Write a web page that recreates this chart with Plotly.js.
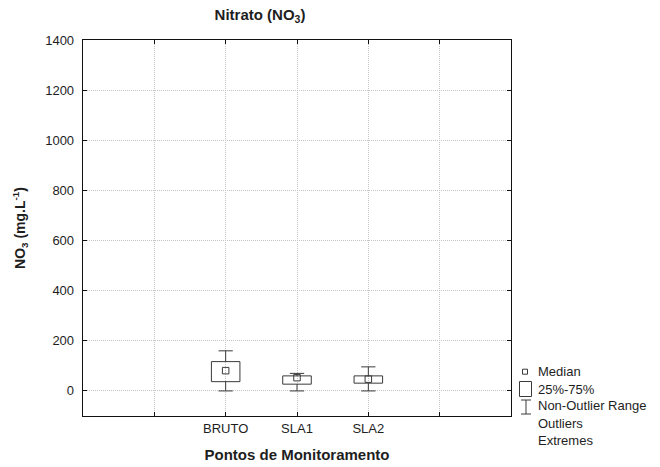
<!DOCTYPE html>
<html>
<head>
<meta charset="utf-8">
<script src="https://cdn.plot.ly/plotly-3.0.1.min.js"></script>
<style>html,body{margin:0;padding:0;background:#fff;}#chart{width:660px;height:467px;}</style>
</head>
<body>
<div id="chart"></div>
<script>
// ---- data ----
const categories = ['BRUTO', 'SLA1', 'SLA2'];
const minVals    = [0, 0, 0];
const q1Vals     = [37, 27, 31];
const medianVals = [81, 53, 47];
const q3Vals     = [117, 60, 60];
const maxVals    = [160, 70, 96];
const tickLabels = ['BRUTO', 'SLA1', 'SLA2'];
const yTicks     = [0, 200, 400, 600, 800, 1000, 1200, 1400];
const legendLabels = ['Median', '25%-75%', 'Non-Outlier Range', 'Outliers', 'Extremes'];

// ---- layout helpers ----
const W = 660, H = 467;
const M = {l: 83, r: 149, t: 40, b: 51};
const PW = W - M.l - M.r, PH = H - M.t - M.b;
const FONT = '"Liberation Sans", Arial, sans-serif';
const INK = '#1e1e1e';
const BOXC = '#3a3a3a';
const GRID = '#c4c4c4';
const halfBox = 0.2, halfCap = 0.1;
const xOf = i => i + 2;           // axis slots 1 and 5 are empty
const tickVals = tickLabels.map((_, i) => xOf(i));

// box outlines + whiskers built from the stats
const bx = [], by = [];
categories.forEach((c, i) => {
  const x = xOf(i);
  bx.push(x - halfBox, x + halfBox, x + halfBox, x - halfBox, x - halfBox, null);
  by.push(q1Vals[i], q1Vals[i], q3Vals[i], q3Vals[i], q1Vals[i], null);
  bx.push(x, x, null, x - halfCap, x + halfCap, null);
  by.push(q3Vals[i], maxVals[i], null, maxVals[i], maxVals[i], null);
  bx.push(x, x, null, x - halfCap, x + halfCap, null);
  by.push(q1Vals[i], minVals[i], null, minVals[i], minVals[i], null);
});

const traces = [
  {type: 'scatter', mode: 'lines', x: bx, y: by, hoverinfo: 'skip',
   line: {color: BOXC, width: 1}, showlegend: false, cliponaxis: false},
  {type: 'scatter', mode: 'markers', x: categories.map((_, i) => xOf(i)), y: medianVals,
   marker: {symbol: 'square-open', size: 6.5, color: BOXC, line: {width: 1, color: BOXC}},
   showlegend: false}
];

// legend drawn in paper coordinates (outside plot, right)
const xp = px => (px - M.l) / PW;
const yp = py => (H - M.b - py) / PH;
const legShapes = [
  {type: 'rect', xref: 'paper', yref: 'paper', x0: xp(522.5), x1: xp(527.5), y0: yp(374.2), y1: yp(369.2), line: {color: BOXC, width: 1}},
  {type: 'rect', xref: 'paper', yref: 'paper', x0: xp(519.5), x1: xp(531.5), y0: yp(396.5), y1: yp(381.5), line: {color: BOXC, width: 1}},
  {type: 'line', xref: 'paper', yref: 'paper', x0: xp(526), x1: xp(526), y0: yp(414), y1: yp(400), line: {color: BOXC, width: 1}},
  {type: 'line', xref: 'paper', yref: 'paper', x0: xp(521), x1: xp(531), y0: yp(400), y1: yp(400), line: {color: BOXC, width: 1}},
  {type: 'line', xref: 'paper', yref: 'paper', x0: xp(521), x1: xp(531), y0: yp(414), y1: yp(414), line: {color: BOXC, width: 1}}
];
const legY = [371.7, 389, 405.7, 423, 440];
const legAnn = legendLabels.map((t, i) => ({
  text: t, xref: 'paper', yref: 'paper', x: xp(536), y: yp(legY[i]),
  xanchor: 'left', yanchor: 'middle', showarrow: false,
  font: {family: FONT, size: 13, color: INK}
}));

const axisCommon = {
  showline: true, linecolor: '#111', linewidth: 1.3, mirror: 'allticks',
  ticks: 'inside', ticklen: 4, tickcolor: '#111', tickwidth: 1,
  showgrid: true, gridcolor: GRID, griddash: '1px,1px', gridwidth: 1,
  zeroline: false, tickfont: {family: FONT, size: 13, color: INK}
};

const layout = {
  width: W, height: H, margin: M,
  paper_bgcolor: '#fff', plot_bgcolor: '#fff',
  showlegend: false,
  title: {text: 'Nitrato (NO<sub>3</sub>)', xref: 'container', yref: 'container',
          x: 260 / W, y: 1 - 15 / H, xanchor: 'center', yanchor: 'middle',
          font: {family: FONT, size: 15, color: INK, weight: 'bold'}},
  xaxis: Object.assign({}, axisCommon, {
    range: [0, 6], tickmode: 'array', tickvals: tickVals, ticktext: tickLabels,
    minor: {tick0: 0, dtick: 1, ticks: 'inside', ticklen: 4, tickcolor: '#111',
            showgrid: true, gridcolor: GRID, griddash: '1px,1px', gridwidth: 1},
    title: {text: 'Pontos de Monitoramento', standoff: 14,
            font: {family: FONT, size: 15, color: INK, weight: 'bold'}}
  }),
  yaxis: Object.assign({}, axisCommon, {
    range: [-100, 1400], tickmode: 'array', tickvals: yTicks,
    ticklabelstandoff: 5,
    title: {text: 'NO<sub>3</sub> (mg.L<sup>-1</sup>)', standoff: 16,
            font: {family: FONT, size: 14, color: INK, weight: 'bold'}}
  }),
  shapes: legShapes,
  annotations: legAnn
};

Plotly.newPlot('chart', traces, layout, {displayModeBar: false, staticPlot: true});
</script>
</body>
</html>
